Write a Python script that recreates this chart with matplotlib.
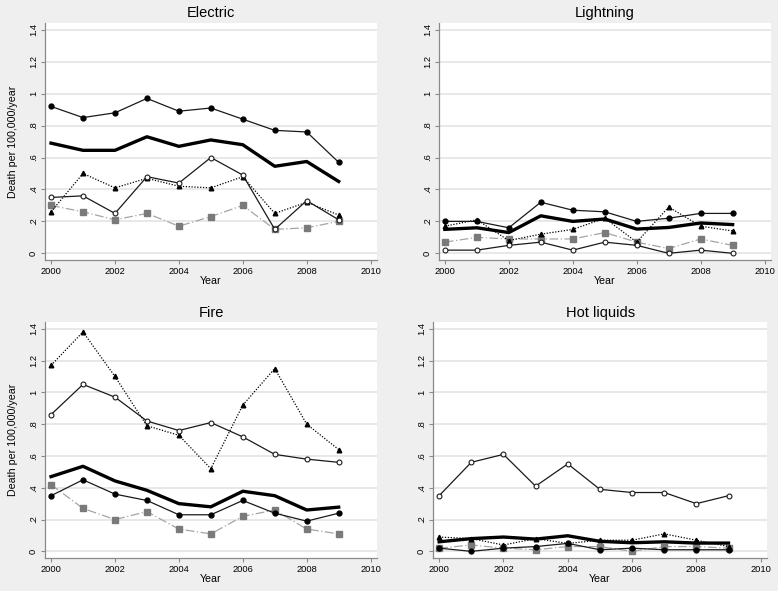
import matplotlib
matplotlib.use("Agg")
import matplotlib.pyplot as plt

plt.rcParams['font.family'] = ['Liberation Sans', 'DejaVu Sans']

years = [2000, 2001, 2002, 2003, 2004, 2005, 2006, 2007, 2008, 2009]
y_ticks = [0, 0.2, 0.4, 0.6, 0.8, 1.0, 1.2, 1.4]
y_tick_labels = ["0", ".2", ".4", ".6", ".8", "1", "1.2", "1.4"]
x_ticks = [2000, 2002, 2004, 2006, 2008, 2010]
titles = ["Electric", "Lightning", "Fire", "Hot liquids"]

# Electric
elec_filled = [0.92, 0.85, 0.88, 0.97, 0.89, 0.91, 0.84, 0.77, 0.76, 0.57]
elec_thick = [0.69, 0.645, 0.645, 0.73, 0.67, 0.71, 0.68, 0.545, 0.575, 0.45]
elec_hollow = [0.35, 0.36, 0.25, 0.48, 0.44, 0.60, 0.49, 0.15, 0.33, 0.21]
elec_tri = [0.26, 0.50, 0.41, 0.47, 0.42, 0.41, 0.48, 0.25, 0.32, 0.24]
elec_sq = [0.30, 0.26, 0.21, 0.25, 0.17, 0.23, 0.30, 0.15, 0.16, 0.20]

# Lightning
light_filled = [0.20, 0.20, 0.16, 0.32, 0.27, 0.26, 0.20, 0.22, 0.25, 0.25]
light_thick = [0.15, 0.16, 0.13, 0.235, 0.20, 0.215, 0.152, 0.162, 0.19, 0.18]
light_hollow = [0.02, 0.02, 0.05, 0.07, 0.02, 0.07, 0.05, 0.0, 0.02, 0.0]
light_tri = [0.17, 0.21, 0.08, 0.12, 0.15, 0.22, 0.07, 0.29, 0.17, 0.14]
light_sq = [0.07, 0.10, 0.09, 0.09, 0.09, 0.13, 0.07, 0.03, 0.09, 0.05]

# Fire
fire_filled = [0.35, 0.45, 0.36, 0.32, 0.23, 0.23, 0.32, 0.24, 0.19, 0.24]
fire_thick = [0.47, 0.535, 0.443, 0.384, 0.30, 0.28, 0.378, 0.35, 0.26, 0.278]
fire_hollow = [0.86, 1.05, 0.97, 0.82, 0.76, 0.81, 0.72, 0.61, 0.58, 0.56]
fire_tri = [1.17, 1.38, 1.10, 0.79, 0.73, 0.52, 0.92, 1.15, 0.80, 0.64]
fire_sq = [0.42, 0.27, 0.20, 0.25, 0.14, 0.11, 0.22, 0.26, 0.14, 0.11]

# Hot liquids
hot_filled = [0.02, 0.0, 0.02, 0.03, 0.05, 0.01, 0.02, 0.01, 0.01, 0.01]
hot_thick = [0.06, 0.08, 0.09, 0.077, 0.098, 0.063, 0.054, 0.06, 0.052, 0.052]
hot_hollow = [0.35, 0.56, 0.61, 0.41, 0.55, 0.39, 0.37, 0.37, 0.30, 0.35]
hot_tri = [0.09, 0.08, 0.04, 0.08, 0.05, 0.07, 0.07, 0.11, 0.07, 0.03]
hot_sq = [0.02, 0.04, 0.02, 0.01, 0.03, 0.03, 0.0, 0.03, 0.03, 0.02]

panels = [
    (elec_filled, elec_thick, elec_hollow, elec_tri, elec_sq),
    (light_filled, light_thick, light_hollow, light_tri, light_sq),
    (fire_filled, fire_thick, fire_hollow, fire_tri, fire_sq),
    (hot_filled, hot_thick, hot_hollow, hot_tri, hot_sq),
]

positions = [
    [0.0578, 0.560, 0.4268, 0.401],
    [0.564, 0.560, 0.427, 0.401],
    [0.0578, 0.0558, 0.4268, 0.3992],
    [0.5566, 0.0558, 0.4294, 0.3992],
]

bg = '#efefef'
fig = plt.figure(figsize=(7.78, 5.91), dpi=100, facecolor=bg)

for i, (pos, data, title) in enumerate(zip(positions, panels, titles)):
    ax = fig.add_axes(pos)
    ax.set_facecolor('white')
    filled, thick, hollow, tri, sq = data
    ax.plot(years, sq, color='#a5a5a5', lw=0.9, ls=(0, (7, 2, 1, 2)),
            marker='s', ms=3.9, mfc='#7a7a7a', mec='#7a7a7a', zorder=3)
    ax.plot(years, tri, color='black', lw=0.9, ls=(0, (1, 1.3)),
            marker='^', ms=3.3, mfc='black', mec='black', zorder=4)
    ax.plot(years, hollow, color='#1a1a1a', lw=0.9, ls='-',
            marker='o', ms=3.5, mfc='white', mec='#1a1a1a', mew=0.8, zorder=4)
    ax.plot(years, thick, color='black', lw=2.4, ls='-', zorder=5)
    ax.plot(years, filled, color='#1a1a1a', lw=0.9, ls='-',
            marker='o', ms=3.5, mfc='black', mec='black', zorder=5)

    ax.set_xlim(1999.81, 2010.2)
    ax.set_ylim(-0.042, 1.442)
    ax.set_yticks(y_ticks)
    ax.set_yticklabels(y_tick_labels, rotation=90, va='center')
    ax.set_xticks(x_ticks)
    ax.set_xticklabels([str(t) for t in x_ticks])
    ax.tick_params(axis='both', labelsize=6.7, length=3, width=0.8,
                   color='#8a8a8a', pad=2)
    ax.grid(axis='y', color='#e6e6e6', lw=1.3, zorder=0)
    ax.set_axisbelow(True)
    for s in ['top', 'right']:
        ax.spines[s].set_visible(False)
    for s in ['left', 'bottom']:
        ax.spines[s].set_color('#8a8a8a')
        ax.spines[s].set_linewidth(0.9)
    ax.set_title(title, fontsize=10.5, pad=4)
    ax.set_xlabel('Year', fontsize=7.7, labelpad=0)
    if i % 2 == 0:
        ax.set_ylabel('Death per 100,000/year', fontsize=7.7, labelpad=8)

fig.savefig('out.png', dpi=100, facecolor=bg)
